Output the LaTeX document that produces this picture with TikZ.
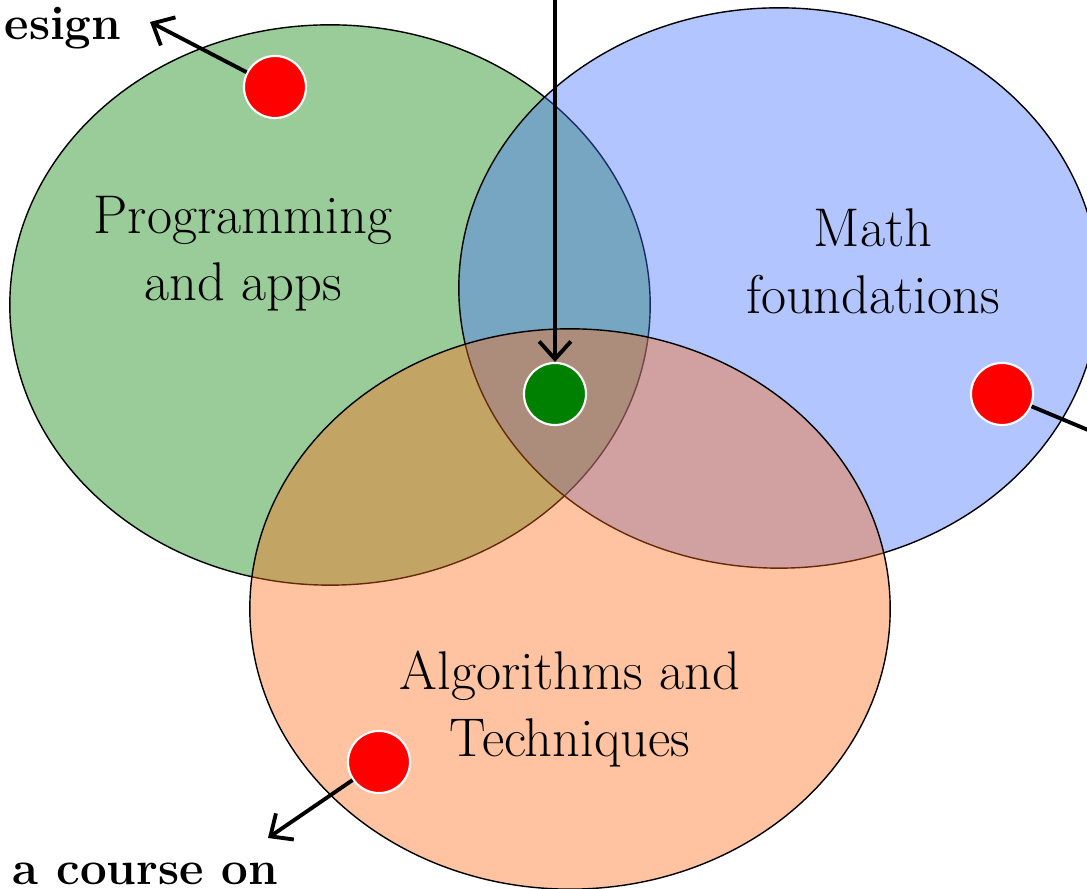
\documentclass[tikz,border=0pt]{standalone}
\usepackage{tikz}
\usetikzlibrary{arrows.meta, positioning}
\definecolor{progfill}{RGB}{0,128,0}
\definecolor{mathfill}{RGB}{64,110,255}
\definecolor{algofill}{RGB}{255,106,20}
\tikzset{
	topic/.style={align=center, inner sep=0pt, font=\fontsize{15.5}{19}\selectfont},
	course/.style={inner sep=0pt, font=\fontsize{13.5}{16}\selectfont\bfseries},
	topicdot/.style={circle, draw=white, line width=0.6pt, minimum size=0.62cm, inner sep=0pt},
	pointer/.style={-{Straight Barb[length=5pt, width=9pt]}, line width=1.1pt}
}
\newcommand{\vennset}[3]{
	\draw[fill=#3, fill opacity=0.4] (#1, #2) ellipse (3.2cm and 2.8cm);
}

\begin{document}
\begin{tikzpicture}[x=0.01cm, y=-0.01cm]
	\useasboundingbox (0,0) rectangle (1087,889);
	\clip (0,0) rectangle (1087,889);
	% the three sets
	\vennset{330}{305}{progfill}
	\vennset{779}{288}{mathfill}
	\vennset{570}{609}{algofill}
	\node[topic] (prog) at (243,254) {Programming\\and apps};
	\node[topic] (math) at (873,261) {Math\\foundations};
	\node[topic] (algo) at (570,709) {Algorithms and\\Techniques};
	% dots
	\node[topicdot, fill=red] (redProg) at (275,87) {};
	\node[topicdot, fill=red] (redMath) at (1002,394) {};
	\node[topicdot, fill=red] (redAlgo) at (379,762) {};
	\node[topicdot, fill=green!50!black] (core) at (555,394) {};
	% pointers
	\coordinate (designEnd) at (150,22);
	\coordinate (topStart) at (555,-10);
	\coordinate (mathEnd) at (1100,435);
	\coordinate (courseEnd) at (268,838);
	\draw[pointer] (redProg) -- (designEnd);
	\draw[pointer] (topStart) -- (core);
	\draw[line width=1.1pt] (redMath) -- (mathEnd);
	\draw[pointer] (redAlgo) -- (courseEnd);
	\node[course, anchor=base west] (design) at (4,40) {esign};
	\node[course, anchor=base west] (coursetxt) at (12,885) {a course on};
\end{tikzpicture}
\end{document}
